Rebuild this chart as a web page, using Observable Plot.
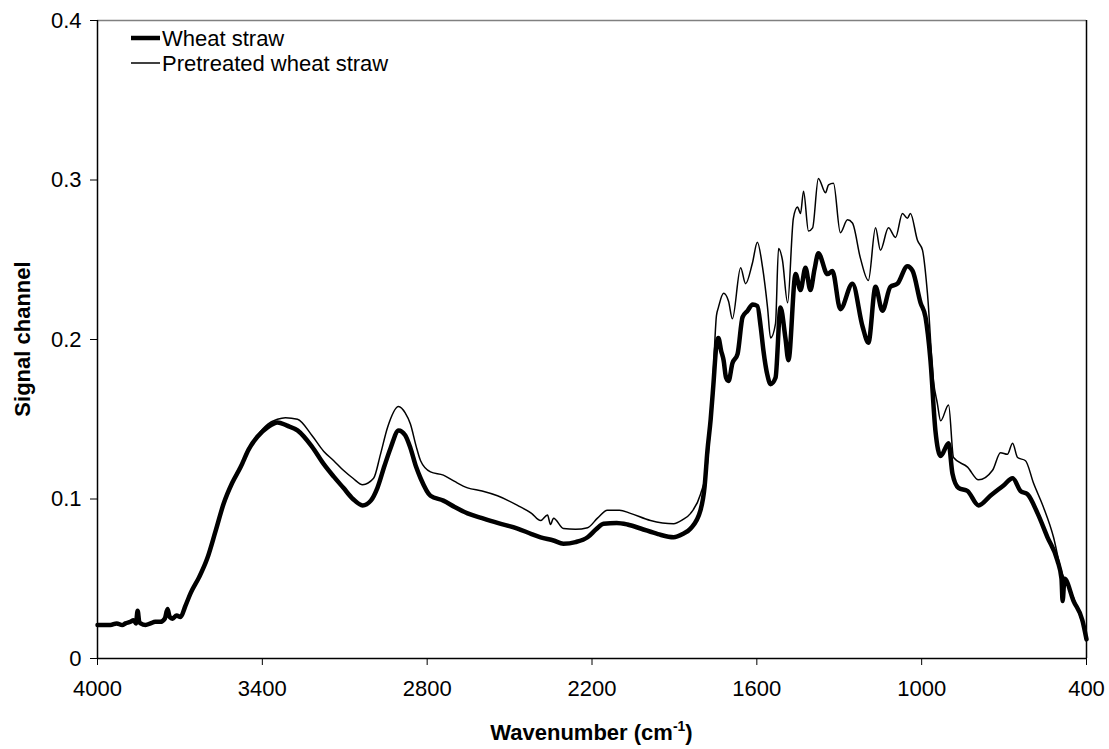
<!DOCTYPE html>
<html>
<head>
<meta charset="utf-8">
<script src="https://cdn.jsdelivr.net/npm/d3@7"></script>
<script src="https://cdn.jsdelivr.net/npm/@observablehq/plot@0.6"></script>
<style>
  html, body { margin: 0; padding: 0; background: #fff; }
  #chart { width: 1109px; height: 749px; }
  svg { font-family: "Liberation Sans", Arial, sans-serif; }
</style>
</head>
<body>
<div id="chart"></div>
<script>
// ---- data ----
const seriesNames = ["Wheat straw", "Pretreated wheat straw"];
const xTicks = [4000, 3400, 2800, 2200, 1600, 1000, 400];
const yTicks = [0, 0.1, 0.2, 0.3, 0.4];

const wheatWn = [4000,3975,3953,3930,3910,3898,3880,3869,3860,3854,3848,3843,3825,3807,3790,3771,3755,3745,3737,3727,3712,3698,3680,3661,3630,3600,3570,3541,3510,3479,3450,3418,3380,3345,3310,3272,3220,3177,3140,3105,3070,3035,3005,2981,2955,2933,2904,2880,2861,2840,2824,2788,2741,2700,2653,2600,2544,2471,2420,2387,2340,2304,2260,2216,2185,2158,2110,2071,2023,1960,1903,1870,1841,1805,1790,1780,1768,1758,1748,1740,1730,1721,1712,1703,1689,1670,1652,1634,1615,1598,1586,1576,1562,1550,1532,1514,1496,1485,1459,1441,1423,1405,1390,1376,1343,1325,1296,1252,1215,1194,1168,1143,1114,1088,1052,1033,1004,986,968,950,931,902,888,866,833,793,750,702,669,640,615,578,542,506,491,487,480,447,415,400];
const wheatVal = [0.021,0.021,0.021,0.022,0.021,0.022,0.023,0.024,0.022,0.030,0.023,0.022,0.021,0.022,0.023,0.023,0.025,0.031,0.026,0.025,0.027,0.026,0.033,0.041,0.051,0.063,0.080,0.097,0.110,0.120,0.131,0.139,0.145,0.148,0.146,0.143,0.133,0.122,0.114,0.107,0.100,0.096,0.099,0.107,0.121,0.132,0.143,0.140,0.132,0.120,0.113,0.102,0.099,0.095,0.091,0.088,0.085,0.0815,0.078,0.076,0.074,0.072,0.073,0.076,0.081,0.0845,0.085,0.084,0.0815,0.078,0.076,0.078,0.0815,0.093,0.108,0.130,0.150,0.172,0.195,0.201,0.193,0.187,0.176,0.174,0.185,0.191,0.214,0.218,0.222,0.221,0.208,0.193,0.178,0.172,0.176,0.220,0.201,0.187,0.241,0.231,0.245,0.231,0.244,0.254,0.241,0.243,0.219,0.235,0.208,0.198,0.233,0.218,0.233,0.235,0.246,0.243,0.223,0.214,0.187,0.143,0.127,0.135,0.116,0.107,0.105,0.096,0.102,0.1085,0.113,0.105,0.103,0.091,0.076,0.0615,0.050,0.036,0.050,0.036,0.024,0.012];

const pretWn = [4000,3975,3953,3930,3910,3898,3880,3869,3860,3854,3848,3843,3825,3807,3790,3771,3755,3745,3737,3727,3712,3698,3680,3661,3630,3600,3570,3541,3510,3479,3450,3418,3380,3345,3316,3272,3220,3177,3140,3105,3070,3035,2995,2970,2944,2904,2880,2861,2840,2824,2788,2741,2700,2653,2600,2544,2471,2420,2387,2362,2351,2340,2304,2260,2216,2180,2144,2100,2060,1987,1903,1870,1841,1805,1780,1761,1747,1740,1721,1703,1689,1659,1641,1616,1598,1579,1561,1550,1532,1521,1507,1488,1467,1452,1441,1430,1412,1397,1376,1350,1339,1321,1296,1270,1252,1223,1194,1168,1150,1121,1095,1070,1052,1041,1015,997,979,957,943,931,902,884,833,793,742,713,688,669,651,622,593,557,520,495,447,400];
const pretVal = [0.021,0.021,0.021,0.022,0.021,0.022,0.023,0.024,0.022,0.030,0.023,0.022,0.021,0.022,0.023,0.023,0.025,0.031,0.026,0.025,0.027,0.026,0.033,0.041,0.051,0.063,0.080,0.097,0.111,0.121,0.132,0.140,0.147,0.150,0.151,0.150,0.140,0.130,0.124,0.118,0.113,0.109,0.113,0.128,0.145,0.158,0.154,0.147,0.133,0.124,0.117,0.115,0.111,0.107,0.105,0.102,0.096,0.091,0.0865,0.090,0.084,0.088,0.0815,0.081,0.082,0.088,0.093,0.093,0.091,0.0865,0.0845,0.087,0.091,0.103,0.122,0.170,0.215,0.220,0.229,0.224,0.213,0.245,0.235,0.248,0.261,0.245,0.220,0.201,0.210,0.257,0.250,0.223,0.276,0.283,0.279,0.293,0.268,0.270,0.301,0.292,0.297,0.298,0.267,0.275,0.273,0.251,0.237,0.270,0.256,0.270,0.264,0.279,0.276,0.279,0.262,0.256,0.229,0.174,0.160,0.149,0.159,0.126,0.120,0.112,0.118,0.129,0.128,0.135,0.126,0.124,0.110,0.095,0.076,0.057,0.038,0.014];

// build table for Plot
const rows = [];
wheatWn.forEach((w, i) => rows.push({series: seriesNames[0], wn: w, v: wheatVal[i]}));
pretWn.forEach((w, i) => rows.push({series: seriesNames[1], wn: w, v: pretVal[i]}));

const FONT = "\"Liberation Sans\", Arial, sans-serif";
const FS = 22;

const chart = Plot.plot({
  width: 1109,
  height: 749,
  marginLeft: 97,
  marginRight: 23,
  marginTop: 20,
  marginBottom: 91,
  style: {fontFamily: FONT, fontSize: FS + "px", color: "#000", background: "#fff", overflow: "visible"},
  x: {domain: [4000, 400], ticks: xTicks, tickSize: 7, tickPadding: 15, label: null, tickFormat: d => String(d)},
  y: {domain: [0, 0.4], ticks: yTicks, tickSize: 7, tickPadding: 9, label: null, tickFormat: d => d === 0 ? "0" : d.toFixed(1)},
  marks: [
    Plot.ruleY([0.4], {stroke: "#808080", strokeWidth: 1.5}),
    Plot.ruleX([400], {stroke: "#000", strokeWidth: 1.5}),
    Plot.line(rows.filter(d => d.series === seriesNames[1]), {x: "wn", y: "v", stroke: "#000", strokeWidth: 1.5, strokeLinejoin: "round", curve: "monotone-x"}),
    Plot.line(rows.filter(d => d.series === seriesNames[0]), {x: "wn", y: "v", stroke: "#000", strokeWidth: 4.5, strokeLinejoin: "round", curve: "monotone-x"}),
    Plot.ruleX([4000], {stroke: "#000", strokeWidth: 1.5}),
    Plot.ruleY([0], {stroke: "#000", strokeWidth: 1.5})
  ]
});

document.getElementById("chart").appendChild(chart);

// axis titles and legend
const svg = d3.select(chart);
const plotLeft = 97, plotRight = 1109 - 23, plotTop = 20, plotBottom = 749 - 91;

const xl = svg.append("text")
  .attr("x", (plotLeft + plotRight) / 2)
  .attr("y", 740)
  .attr("text-anchor", "middle")
  .attr("font-weight", "bold")
  .attr("font-size", FS)
  .attr("font-family", FONT)
  .attr("fill", "#000");
xl.append("tspan").text("Wavenumber (cm");
xl.append("tspan").attr("font-size", 14).attr("dy", -9).text("-1");
xl.append("tspan").attr("dy", 9).text(")");

svg.append("text")
  .attr("transform", `translate(30, ${(plotTop + plotBottom) / 2}) rotate(-90)`)
  .attr("text-anchor", "middle")
  .attr("font-weight", "bold")
  .attr("font-size", FS)
  .attr("font-family", FONT)
  .attr("fill", "#000")
  .text("Signal channel");

const legend = svg.append("g").attr("font-family", FONT).attr("font-size", FS).attr("fill", "#000");
const legendItems = [{name: seriesNames[0], w: 4.5}, {name: seriesNames[1], w: 1.5}];
legendItems.forEach((it, i) => {
  const cy = 38 + i * 25;
  legend.append("line").attr("x1", 131).attr("x2", 160).attr("y1", cy).attr("y2", cy)
    .attr("stroke", "#000").attr("stroke-width", it.w);
  legend.append("text").attr("x", 162).attr("y", cy).attr("dy", "0.36em")
    .attr("text-anchor", "start").text(it.name);
});
</script>
</body>
</html>
